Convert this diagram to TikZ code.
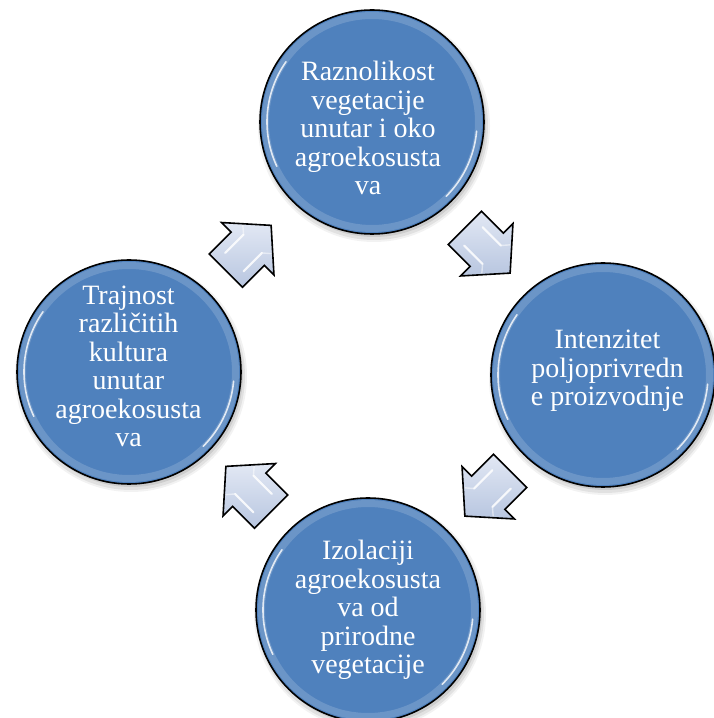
\documentclass[tikz,border=0pt]{standalone}
\usepackage{fontspec}
\setmainfont{Liberation Serif}
\usetikzlibrary{calc}
\definecolor{circblue}{RGB}{79,129,189}
\definecolor{arrlight}{RGB}{226,232,244}
\definecolor{arrdark}{RGB}{184,198,224}
\begin{document}
\begin{tikzpicture}[x=1pt,y=1pt,
  circ/.style={circle, minimum size=224pt, inner sep=0pt, fill=circblue},
  rimline/.style={draw=black, line width=1.6pt},
  txt/.style={text=white, align=center, inner sep=0pt, anchor=north,
    font=\fontsize{28}{28.5}\selectfont},
  blockarrow/.style={draw=black, line width=1.6pt, line join=miter,
    top color=arrlight, bottom color=arrdark},
  cyclearrow/.pic={
    \path[blockarrow] (-32,-23.5) -- (-1,-23.5) -- (-1,-37) -- (32,0)
      -- (-1,37) -- (-1,23.5) -- (-32,23.5) -- cycle;
    \draw[white, opacity=0.85, line width=2.2pt, line cap=round]
      (-20,13) -- (6,13) (-20,-13) -- (6,-13);
    \draw[white, opacity=0.5, line width=1.4pt, line cap=round]
      (6,13) -- (12,20) (6,-13) -- (12,-20);
  },
  glass/.pic={
    \fill[black, opacity=0.05] (2,-4) circle (116);
    \fill[black, opacity=0.07] (2,-4) circle (114);
    \fill[black, opacity=0.09] (2,-3) circle (112);
  }
]
\useasboundingbox (0,0) rectangle (713,718);

% soft shadows
\pic at (372,596) {glass};
\pic at (603,343) {glass};
\pic at (368,108) {glass};
\pic at (129,346) {glass};

% circles
\node[circ] (top) at (372,596) {};
\node[circ] (right) at (603,343) {};
\node[circ] (bottom) at (368,108) {};
\node[circ] (left) at (129,346) {};

% bevel rims
\foreach \c in {top,right,bottom,left}{
  \draw[white, opacity=0.16, line width=7pt] (\c.center) circle (106.5);
  \draw[white, opacity=0.8, line width=1.6pt, line cap=round]
    ($(\c.center)+(145:105)$) arc (145:205:105);
  \draw[white, opacity=0.8, line width=1.6pt, line cap=round]
    ($(\c.center)+(-45:105)$) arc (-45:-5:105);
  \draw[rimline] (\c.center) circle (112);
}

% texts
\node[txt] (ttop) at (368,657) {Raznolikost\\vegetacije\\unutar i oko\\agroekosusta\\va};
\node[txt] (tright) at (607.5,388) {Intenzitet\\poljoprivredn\\e proizvodnje};
\node[txt] (tbottom) at (368,178) {Izolaciji\\agroekosusta\\va od\\prirodne\\vegetacije};
\node[txt] (tleft) at (128.5,432.5) {Trajnost\\različitih\\kultura\\unutar\\agroekosusta\\va};

% block arrows between circles
\pic[rotate=45] at ($(left)!0.5!(top)+(-2,-1)$) {cyclearrow};
\pic[rotate=-45] at ($(top)!0.5!(right)+(0,-2)$) {cyclearrow};
\pic[rotate=-135] at ($(right)!0.5!(bottom)+(2,-1)$) {cyclearrow};
\pic[rotate=135] at ($(bottom)!0.5!(left)+(0,2)$) {cyclearrow};
\end{tikzpicture}
\end{document}
